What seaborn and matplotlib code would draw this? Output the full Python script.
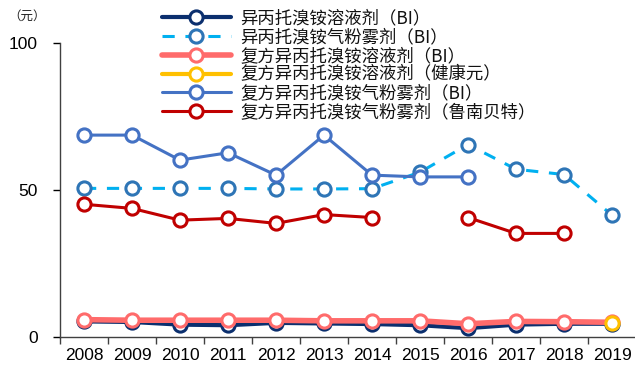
import numpy as np
import pandas as pd
import matplotlib
matplotlib.use("Agg")
import matplotlib.pyplot as plt
import seaborn as sns

years = ["2008", "2009", "2010", "2011", "2012", "2013", "2014", "2015", "2016", "2017", "2018", "2019"]

s_bi_sol = [5.3, 5.1, 4.2, 4.0, 4.8, 4.6, 4.4, 4.0, 3.0, 4.2, 4.5, 4.5]
s_bi_inh = [50.5, 50.5, 50.5, 50.5, 50.3, 50.3, 50.4, 56.0, 65.4, 57.0, 55.2, 41.4]
s_cbi_sol = [5.9, 5.7, 5.7, 5.7, 5.7, 5.5, 5.5, 5.5, 4.5, 5.3, 5.2, 5.0]
s_cjky_sol = [np.nan] * 11 + [4.8]
s_cbi_inh = [68.6, 68.6, 60.1, 62.6, 55.0, 68.6, 55.0, 54.4, 54.4, np.nan, np.nan, np.nan]
s_cln_inh = [45.1, 43.7, 39.7, 40.3, 38.6, 41.6, 40.6, np.nan, 40.6, 35.2, 35.2, np.nan]

labels = ["异丙托溴铵溶液剂（BI）", "异丙托溴铵气粉雾剂（BI）", "复方异丙托溴铵溶液剂（BI）",
          "复方异丙托溴铵溶液剂（健康元）", "复方异丙托溴铵气粉雾剂（BI）", "复方异丙托溴铵气粉雾剂（鲁南贝特）"]
series = [s_bi_sol, s_bi_inh, s_cbi_sol, s_cjky_sol, s_cbi_inh, s_cln_inh]

styles = [
    dict(color="#0B2F6E", lw=3.0, ls="-", mec="#0B2F6E"),
    dict(color="#00B0F0", lw=2.2, ls=(0, (4, 3.5)), mec="#2E75B6"),
    dict(color="#FF6B6B", lw=4.0, ls="-", mec="#FF6B6B"),
    dict(color="#FFC000", lw=3.0, ls="-", mec="#FFC000"),
    dict(color="#4472C4", lw=2.2, ls="-", mec="#4472C4"),
    dict(color="#C00000", lw=2.2, ls="-", mec="#C00000"),
]
zorders = [3, 5, 4, 7, 5, 5]

sns.set_theme(style="white")
plt.rcParams['font.family'] = ['Noto Sans CJK SC', 'DejaVu Sans']
plt.rcParams['axes.unicode_minus'] = False

fig = plt.figure(figsize=(6.35, 3.69), dpi=100)
ax = fig.add_axes([60 / 635, 32 / 369, 576 / 635, (337 - 42.7) / 369])

x = np.arange(len(years))
handles = []
for lab, vals, st, z in zip(labels, series, styles, zorders):
    df = pd.DataFrame({"x": x, "y": vals})
    valid = df["y"].notna()
    df["seg"] = (valid != valid.shift()).cumsum()
    df = df[valid]
    for _, g in df.groupby("seg"):
        sns.lineplot(data=g, x="x", y="y", ax=ax, color=st["color"], lw=st["lw"],
                     linestyle=st["ls"], marker="o", markersize=9.5, markerfacecolor="white",
                     markeredgecolor=st["mec"], markeredgewidth=2.2, zorder=z,
                     legend=False, estimator=None, sort=False)
    handles.append(matplotlib.lines.Line2D([], [], color=st["color"], lw=st["lw"], linestyle=st["ls"],
                                           marker="o", markersize=9.5, markerfacecolor="white",
                                           markeredgecolor=st["mec"], markeredgewidth=2.2))

num_font = ['Liberation Sans', 'DejaVu Sans']
ax.set_xlim(-0.5, len(years) - 0.5)
ax.set_ylim(0, 100)
ax.set_yticks([0, 50, 100])
ax.set_yticklabels(["0", "50", "100"], fontsize=12.5, family=num_font)
ax.set_xticks(np.arange(-0.5, len(years), 1.0))
ax.set_xticklabels([])
ax.set_xticks(x, minor=True)
ax.set_xticklabels(years, minor=True, fontsize=12.5, family=num_font)
ax.tick_params(axis="x", which="major", direction="out", length=5, width=1, color="#404040", bottom=True)
ax.tick_params(axis="x", which="minor", length=0, pad=8, colors="black")
ax.tick_params(axis="y", direction="out", length=5, width=1, color="#404040", left=True, pad=11)
ax.tick_params(axis="y", colors="black")
ax.set_xlabel("")
ax.set_ylabel("")
for side in ["top", "right"]:
    ax.spines[side].set_visible(False)
for side in ["left", "bottom"]:
    ax.spines[side].set_color("#404040")
    ax.spines[side].set_linewidth(1.0)
ax.grid(False)

fig.text(8 / 635, 1 - 16 / 369, "（元）", fontsize=9, va="center", ha="left", color="#222222")

leg = fig.legend(handles=handles, labels=labels, loc="upper left", bbox_to_anchor=(162 / 635, 1 - 9 / 369),
                 frameon=False, fontsize=12.5, handlelength=3.97, labelspacing=0.05, handletextpad=0.55,
                 borderaxespad=0, borderpad=0)
for t in leg.get_texts():
    t.set_color("#111111")

fig.savefig("out.png", dpi=100)
